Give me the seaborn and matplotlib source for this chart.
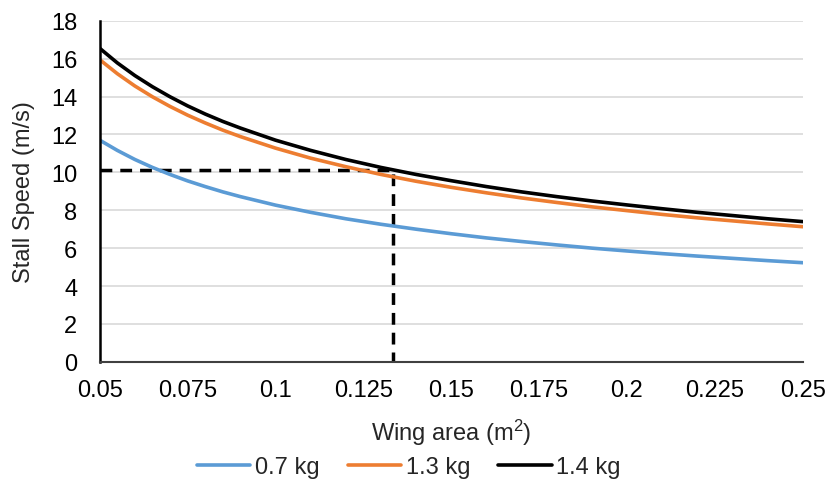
import matplotlib
matplotlib.use("Agg")
import matplotlib.pyplot as plt
import seaborn as sns
import pandas as pd

wing_area = [0.05, 0.055, 0.06, 0.065, 0.07, 0.075, 0.08, 0.085, 0.09, 0.10, 0.11,
             0.12, 0.13, 0.14, 0.15, 0.16, 0.17, 0.18, 0.19, 0.20, 0.21, 0.22,
             0.23, 0.24, 0.25]
speed_07 = [11.70, 11.16, 10.68, 10.26, 9.89, 9.55, 9.25, 8.97, 8.72, 8.27, 7.89,
            7.55, 7.26, 7.00, 6.76, 6.54, 6.35, 6.17, 6.00, 5.85, 5.71, 5.58,
            5.46, 5.34, 5.23]
speed_13 = [15.95, 15.21, 14.56, 13.99, 13.48, 13.02, 12.61, 12.23, 11.89, 11.28, 10.75,
            10.30, 9.89, 9.53, 9.21, 8.92, 8.65, 8.41, 8.18, 7.98, 7.78, 7.60,
            7.44, 7.28, 7.13]
speed_14 = [16.55, 15.78, 15.11, 14.52, 13.99, 13.51, 13.08, 12.69, 12.34, 11.70, 11.16,
            10.68, 10.26, 9.89, 9.56, 9.25, 8.97, 8.72, 8.49, 8.28, 8.08, 7.89,
            7.72, 7.55, 7.40]
series_labels = ["0.7 kg", "1.3 kg", "1.4 kg"]
series_colors = ["#5B9BD5", "#ED7D31", "#000000"]

dash_x = [0.05, 0.1334, 0.1334]
dash_y = [10.1, 10.1, 0.0]

x_ticks = [0.05, 0.075, 0.1, 0.125, 0.15, 0.175, 0.2, 0.225, 0.25]
x_tick_labels = ["0.05", "0.075", "0.1", "0.125", "0.15", "0.175", "0.2", "0.225", "0.25"]
y_ticks = [0, 2, 4, 6, 8, 10, 12, 14, 16, 18]

rows = []
for lab, vals in zip(series_labels, [speed_07, speed_13, speed_14]):
    for a, v in zip(wing_area, vals):
        rows.append({"area": a, "speed": v, "mass": lab})
df = pd.DataFrame(rows)

sns.set_theme(style="white")
plt.rcParams["font.family"] = ["Liberation Sans", "DejaVu Sans"]

FS = 17
fig = plt.figure(figsize=(8.31, 4.85), dpi=100)
ax = fig.add_axes([0.12, 0.252, 0.846, 0.703])

for y in y_ticks[1:]:
    ax.axhline(y, color="#D9D9D9", lw=1.2, zorder=0)

ax.plot(dash_x, dash_y, color="black", lw=2.5, ls=(0, (3.4, 2.3)), zorder=1)

sns.lineplot(data=df, x="area", y="speed", hue="mass", palette=series_colors,
             linewidth=2.6, ax=ax, legend=True, zorder=2)

ax.set_xlim(0.05, 0.25)
ax.set_ylim(0, 18)
ax.set_xticks(x_ticks)
ax.set_xticklabels(x_tick_labels)
ax.set_yticks(y_ticks)
ax.tick_params(axis="both", labelsize=FS, length=0, colors="black")
ax.tick_params(axis="x", pad=12.5)
ax.tick_params(axis="y", pad=16)

for s in ["top", "right"]:
    ax.spines[s].set_visible(False)
ax.spines["left"].set_color("black")
ax.spines["left"].set_linewidth(1.8)
ax.spines["bottom"].set_color("#404040")
ax.spines["bottom"].set_linewidth(1.5)

ax.set_xlabel(r"Wing area ($\mathregular{m^2}$)", fontsize=FS, va="center")
ax.xaxis.set_label_coords(0.5, -0.205)
ax.set_ylabel("Stall Speed (m/s)", fontsize=FS, va="center")
ax.yaxis.set_label_coords(-0.107, 0.5)

handles, labels = ax.get_legend_handles_labels()
ax.legend(handles, labels, loc="center", bbox_to_anchor=(0.492, 0.035),
          bbox_transform=fig.transFigure, ncol=3, frameon=False, fontsize=FS,
          handlelength=2.25, handletextpad=0.2, columnspacing=1.2,
          borderpad=0, borderaxespad=0)

fig.savefig("out.png", dpi=100)
